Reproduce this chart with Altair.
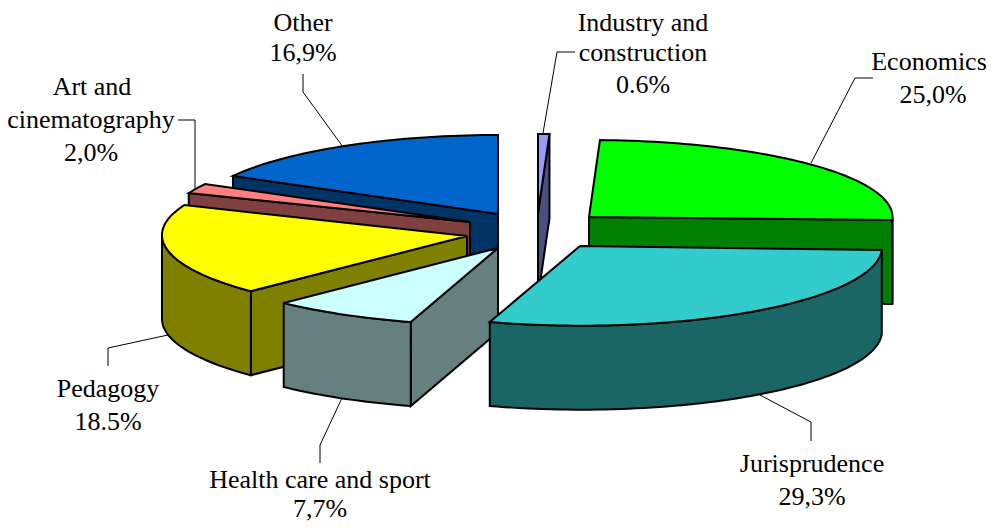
import math
import altair as alt
import pandas as pd

# Chart values
categories = ["Industry and construction", "Economics", "Jurisprudence",
              "Health care and sport", "Pedagogy", "Art and cinematography", "Other"]
shares = [0.6, 25.0, 29.3, 7.7, 18.5, 2.0, 16.9]
share_text = ["0.6%", "25,0%", "29,3%", "7,7%", "18.5%", "2,0%", "16,9%"]
top_colors = ["#9999FF", "#00FF00", "#33CCCC", "#CCFFFF", "#FFFF00", "#FF8080", "#0066CC"]
wall_colors = ["#4D4D80", "#008000", "#1A6666", "#668080", "#808000", "#804040", "#003366"]

# Pie geometry: where each exploded slice sits (apex, arc centre, radii)
apex_x = [538, 589, 580, 498, 467, 470, 498]
apex_y = [213, 217, 246, 248, 236, 222, 214]
arc_cx = [538, 588.5, 581, 505, 470, 467, 498]
arc_cy = [213, 217, 247, 249.6, 235, 223, 215]
arc_rx = [304, 304, 301, 311, 308, 300, 303.5]
arc_ry = [79, 77, 78.7, 76, 80, 80, 80]
DEPTH = 84
draw_order = [6, 5, 4, 3, 0, 1, 2]
# Which side faces show: radial wall at slice start/end, and the rim
show_start = [False, False, False, True, True, True, True]
show_end = [True, True, False, False, False, False, False]

# Label text and leader lines
label_lines = [
    ("Industry and", 643, 31), ("construction", 643, 61), ("0.6%", 643, 93),
    ("Economics", 929, 70), ("25,0%", 933, 103),
    ("Jurisprudence", 812, 472), ("29,3%", 812, 505),
    ("Health care and sport", 320, 488), ("7,7%", 320, 517),
    ("Pedagogy", 108, 397), ("18.5%", 108, 430),
    ("Art and", 92, 95), ("cinematography", 91, 128), ("2,0%", 91, 161),
    ("Other", 303, 31), ("16,9%", 303, 61),
]
leaders = [
    [(575, 52), (557, 52), (543, 133)],
    [(873, 78), (855, 78), (811, 163)],
    [(758, 394), (811, 422), (811, 441)],
    [(342, 398), (320, 445), (320, 463)],
    [(108, 366), (108, 348), (168, 335)],
    [(178, 120), (195, 120), (195, 190)],
    [(303, 74), (303, 92), (343, 147)],
]

W, H = 979, 515
xs = alt.Scale(domain=[8, 8 + W], nice=False, zero=False)
ys = alt.Scale(domain=[8 + H, 8], nice=False, zero=False)


def arc_pts(i, a, b, dy=0.0):
    n = max(2, int(abs(b - a) / 1.5) + 2)
    out = []
    for k in range(n):
        t = math.radians(a + (b - a) * k / (n - 1))
        out.append((arc_cx[i] + arc_rx[i] * math.sin(t),
                    arc_cy[i] - arc_ry[i] * math.cos(t) + dy))
    return out


def polygon(points, fill):
    closed = list(points) + [points[0]]
    df = pd.DataFrame({"x": [p[0] for p in closed], "y": [p[1] for p in closed],
                       "i": range(len(closed))})
    return alt.Chart(df).mark_line(
        fill=fill, stroke="black", strokeWidth=2, strokeJoin="miter", interpolate="linear"
    ).encode(
        x=alt.X("x:Q", scale=xs, axis=None),
        y=alt.Y("y:Q", scale=ys, axis=None),
        order=alt.Order("i:Q"),
    )


starts, acc = [], 0.0
for s in shares:
    starts.append(acc)
    acc += s
total = sum(shares)

layers = []
for i in draw_order:
    a = starts[i] / total * 360
    b = (starts[i] + shares[i]) / total * 360
    ax, ay = apex_x[i], apex_y[i]
    sp = arc_pts(i, a, a)[0]
    ep = arc_pts(i, b, b)[0]
    if show_start[i]:
        layers.append(polygon([(ax, ay), sp, (sp[0], sp[1] + DEPTH), (ax, ay + DEPTH)], wall_colors[i]))
    if show_end[i]:
        layers.append(polygon([(ax, ay), ep, (ep[0], ep[1] + DEPTH), (ax, ay + DEPTH)], wall_colors[i]))
    lo, hi = max(a, 90), min(b, 270)
    if lo < hi:
        upper = arc_pts(i, lo, hi)
        lower = arc_pts(i, hi, lo, DEPTH)
        layers.append(polygon(upper + lower, wall_colors[i]))
    layers.append(polygon([(ax, ay)] + arc_pts(i, a, b), top_colors[i]))

for n, path in enumerate(leaders):
    df = pd.DataFrame({"x": [p[0] for p in path], "y": [p[1] for p in path], "i": range(len(path))})
    layers.append(alt.Chart(df).mark_line(stroke="black", strokeWidth=1).encode(
        x=alt.X("x:Q", scale=xs, axis=None),
        y=alt.Y("y:Q", scale=ys, axis=None),
        order=alt.Order("i:Q"),
    ))

labels = pd.DataFrame(label_lines, columns=["t", "x", "y"])
layers.append(alt.Chart(labels).mark_text(
    font="Liberation Serif", fontSize=26, color="black", align="center", baseline="alphabetic"
).encode(
    x=alt.X("x:Q", scale=xs, axis=None),
    y=alt.Y("y:Q", scale=ys, axis=None),
    text="t:N",
))

chart = alt.layer(*layers).properties(
    width=W, height=H, padding=0, background="white", autosize=alt.AutoSizeParams(type="none")
).configure_view(stroke=None, strokeWidth=0)

chart.save("out.html", embed_options={"renderer": "svg", "actions": False})
